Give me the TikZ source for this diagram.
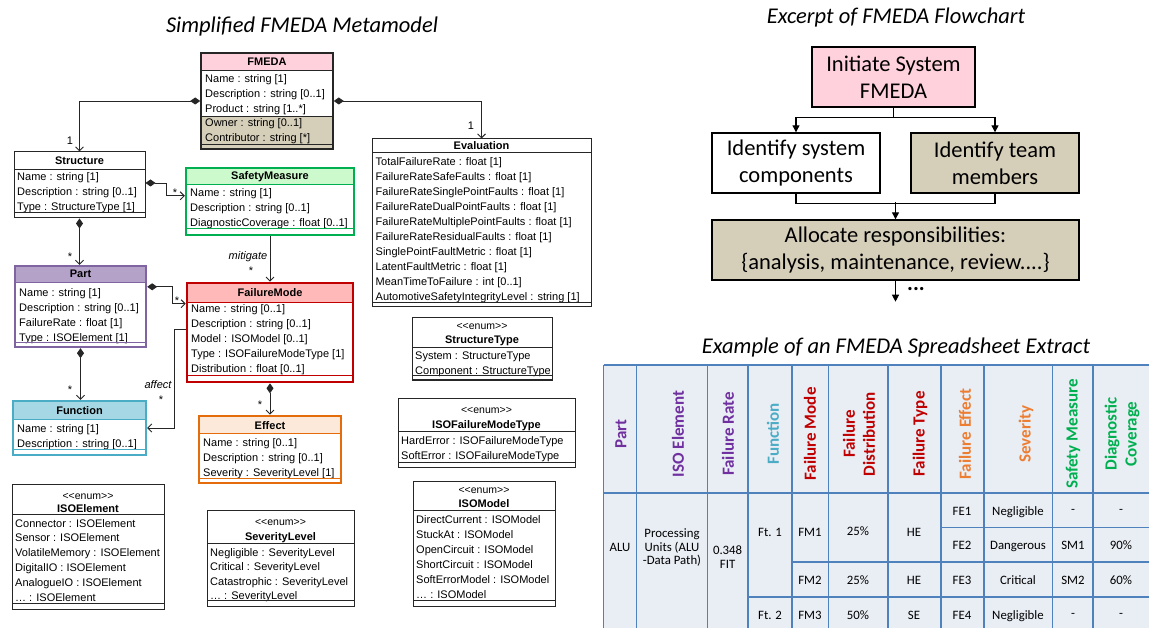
\documentclass[tikz,border=0pt]{standalone}
\usepackage{fontspec}
\setmainfont{Liberation Sans}
\newfontfamily\calibri{Carlito}
\usetikzlibrary{arrows.meta,fit}

\definecolor{fmedapink}{RGB}{255,209,221}
\definecolor{tanfill}{RGB}{213,206,185}
\definecolor{smline}{RGB}{0,176,80}
\definecolor{smfill}{RGB}{204,250,204}
\definecolor{partline}{RGB}{128,100,162}
\definecolor{partfill}{RGB}{180,162,200}
\definecolor{fmline}{RGB}{192,0,0}
\definecolor{fmfill}{RGB}{255,185,185}
\definecolor{fnline}{RGB}{75,172,198}
\definecolor{fnfill}{RGB}{166,215,229}
\definecolor{efline}{RGB}{228,108,10}
\definecolor{effill}{RGB}{253,233,217}
\definecolor{tblfill}{RGB}{233,237,244}
\definecolor{tblline}{RGB}{79,129,189}
\definecolor{hpurple}{RGB}{112,48,160}
\definecolor{hcyan}{RGB}{75,172,198}
\definecolor{hred}{RGB}{192,0,0}
\definecolor{horange}{RGB}{237,125,49}
\definecolor{hgreen}{RGB}{0,176,80}

% class box: name, x0, y0, x1, y1, header bottom, header fill, border style
\newcommand{\umlclass}[8]{%
  \fill[#7] (#2,#3) rectangle (#4,#6);
  \draw[#8, line width=0.7pt] (#2,#6) -- (#4,#6);
  \node[fit={(#2,#3) (#4,#5)}, inner sep=0pt, #8] (#1) {};}
% attribute rows: name prefix, x, first y, row step, list
\newcommand{\umlrows}[5]{%
  \foreach \t [count=\i] in {#5} {\node[attr] (#1-\i) at (#2,{#3+#4*(\i-1)}) {\t};}}
% operations separator: x0, x1, y, style
\newcommand{\umlsep}[4]{\draw[#4, line width=0.7pt] (#1,#3) -- (#2,#3);}
% stereotype text
\newcommand{\enumtag}{<{}<enum>{}>}

\begin{document}
\begin{tikzpicture}[x=1pt,y=-1pt,
  attr/.style={anchor=west, inner sep=0pt, font=\fontsize{11}{13}\selectfont, text height=8pt, text depth=0pt},
  cname/.style={inner sep=0pt, font=\bfseries\fontsize{11}{13}\selectfont, text height=8pt, text depth=0pt},
  stereo/.style={inner sep=0pt, font=\fontsize{10.5}{13}\selectfont, text height=8pt, text depth=0pt},
  thin/.style={draw=black!85, line width=1pt},
  fmedaborder/.style={draw=black!85, line width=1.6pt},
  smborder/.style={draw=smline, line width=2.4pt},
  partborder/.style={draw=partline, line width=2.4pt},
  fmborder/.style={draw=fmline, line width=2.6pt},
  fnborder/.style={draw=fnline, line width=2.4pt},
  efborder/.style={draw=efline, line width=2.6pt},
  link/.style={draw=black!85, line width=0.9pt},
  comp/.style={link, {Diamond[length=10pt,width=7pt]}-{Straight Barb[length=4pt,width=8pt]}},
  assoc/.style={link, -{Straight Barb[length=4pt,width=8pt]}},
  lbl/.style={inner sep=0pt, font=\fontsize{11}{13}\selectfont},
  ilbl/.style={inner sep=0pt, font=\itshape\fontsize{11}{13}\selectfont},
  ttl/.style={inner sep=0pt, font=\calibri\itshape\fontsize{22.5}{27}\selectfont},
  flowbox/.style={draw=black, line width=1.4pt, inner sep=0pt, align=center, font=\calibri\fontsize{22.5}{27}\selectfont},
  flowline/.style={draw=black, line width=1.2pt},
  flowarrow/.style={flowline, -{Triangle[length=7pt,width=7pt]}},
  grid/.style={draw=tblline, line width=1.6pt},
  hdr/.style={rotate=90, inner sep=0pt, align=center, font=\calibri\bfseries\fontsize{17}{20}\selectfont},
  cell/.style={inner sep=0pt, align=center, font=\calibri\fontsize{12.8}{13.5}\selectfont, text depth=0pt}]

\fill[white] (0,0) rectangle (1149,628);
\useasboundingbox (0,0) rectangle (1149,628);

% ---------------- metamodel ----------------
\node[ttl] (t-meta) at (302,27) {Simplified FMEDA Metamodel};

% FMEDA
\fill[tanfill] (201,116) rectangle (333,149);
\umlclass{fmeda}{201}{53}{333}{149}{70}{fmedapink}{fmedaborder}
\node[cname] (fmeda-n) at (267,62) {FMEDA};
\umlrows{fmeda}{205}{79}{14.6}{Name : string [1], Description : string [0..1], Product : string [1..*], Owner : string [0..1], Contributor : string [*]}
\umlsep{201}{333}{116}{black!85}
\umlsep{201}{333}{144}{black!85}

% Structure
\umlclass{structure}{14}{152}{145}{218}{169}{white}{thin}
\node[cname] (structure-n) at (79.5,160.5) {Structure};
\umlrows{structure}{17}{176.5}{14.8}{Name : string [1], Description : string [0..1], Type : StructureType [1]}
\umlsep{14}{145}{212.5}{black!85}

% SafetyMeasure
\umlclass{safety}{186}{168}{354}{235}{184}{smfill}{smborder}
\node[cname] (safety-n) at (270,176) {SafetyMeasure};
\umlrows{safety}{190}{193}{14.6}{Name : string [1], Description : string [0..1], DiagnosticCoverage : float [0..1]}
\umlsep{186}{354}{228.5}{smline}

% Evaluation
\umlclass{evaluation}{372}{139}{591}{307}{152}{white}{thin}
\node[cname] (evaluation-n) at (481.5,145.5) {Evaluation};
\umlrows{evaluation}{375.5}{161.5}{15}{TotalFailureRate : float [1], FailureRateSafeFaults : float [1], FailureRateSinglePointFaults : float [1], FailureRateDualPointFaults : float [1], FailureRateMultiplePointFaults : float [1], FailureRateResidualFaults : float [1], SinglePointFaultMetric : float [1], LatentFaultMetric : float [1], MeanTimeToFailure : int [0..1], AutomotiveSafetyIntegrityLevel : string [1]}
\umlsep{372}{591}{302}{black!85}

% Part
\umlclass{part}{15}{266}{146}{347}{282}{partfill}{partborder}
\node[cname] (part-n) at (80.5,274) {Part};
\umlrows{part}{19}{293}{14.7}{Name : string [1], Description : string [0..1], FailureRate : float [1], Type : ISOElement [1]}
\umlsep{15}{146}{342}{partline}

% FailureMode
\umlclass{fm}{187}{283}{353}{382}{302}{fmfill}{fmborder}
\node[cname] (fm-n) at (270,292.5) {FailureMode};
\umlrows{fm}{191}{309}{14.8}{Name : string [0..1], Description : string [0..1], Model : ISOModel [0..1], Type : ISOFailureModeType [1], Distribution : float [0..1]}
\umlsep{187}{353}{375}{fmline}

% Function
\umlclass{function}{13}{401}{146}{455}{419}{fnfill}{fnborder}
\node[cname] (function-n) at (79.5,410.5) {Function};
\umlrows{function}{17}{428}{15}{Name : string [1], Description : string [0..1]}
\umlsep{13}{146}{449.5}{fnline}

% Effect
\umlclass{effect}{199}{416}{341}{483}{433}{effill}{efborder}
\node[cname] (effect-n) at (270,425) {Effect};
\umlrows{effect}{203}{442}{15}{Name : string [0..1], Description : string [0..1], Severity : SeverityLevel [1]}
\umlsep{199}{341}{478}{efline}

% enumerations
\umlclass{stype}{412}{318}{552}{380}{347}{white}{thin}
\node[stereo] (stype-s) at (482,326) {\enumtag};
\node[cname] (stype-n) at (482,340) {StructureType};
\umlrows{stype}{415}{355.5}{15}{System : StructureType, Component : StructureType}
\umlsep{412}{552}{375}{black!85}

\umlclass{fmtype}{398}{398}{575}{467}{431}{white}{thin}
\node[stereo] (fmtype-s) at (486.5,409) {\enumtag};
\node[cname] (fmtype-n) at (486.5,424) {ISOFailureModeType};
\umlrows{fmtype}{401}{440}{15}{HardError : ISOFailureModeType, SoftError : ISOFailureModeType}
\umlsep{398}{575}{462}{black!85}

\umlclass{isomodel}{413}{481}{555}{606}{510}{white}{thin}
\node[stereo] (isomodel-s) at (484,489) {\enumtag};
\node[cname] (isomodel-n) at (484,503) {ISOModel};
\umlrows{isomodel}{416}{519}{15}{DirectCurrent : ISOModel, StuckAt : ISOModel, OpenCircuit : ISOModel, ShortCircuit : ISOModel, SoftErrorModel : ISOModel, \ldots{} : ISOModel}
\umlsep{413}{555}{600}{black!85}

\umlclass{isoelem}{12}{484}{164}{609}{514}{white}{thin}
\node[stereo] (isoelem-s) at (88,495) {\enumtag};
\node[cname] (isoelem-n) at (88,508) {ISOElement};
\umlrows{isoelem}{15}{523}{14.8}{Connector : ISOElement, Sensor : ISOElement, VolatileMemory : ISOElement, DigitalIO : ISOElement, AnalogueIO : ISOElement, \ldots{} : ISOElement}
\umlsep{12}{164}{603}{black!85}

\umlclass{sevlevel}{207}{510}{354}{606}{543}{white}{thin}
\node[stereo] (sevlevel-s) at (280.5,521) {\enumtag};
\node[cname] (sevlevel-n) at (280.5,536) {SeverityLevel};
\umlrows{sevlevel}{210}{552}{14.6}{Negligible : SeverityLevel, Critical : SeverityLevel, Catastrophic : SeverityLevel, \ldots{} : SeverityLevel}
\umlsep{207}{354}{600}{black!85}

% connectors
\draw[comp] (fmeda.west) -| (structure.north);
\draw[comp] (fmeda.east) -| (evaluation.north);
\draw[comp] ([yshift=2pt]structure.east) -- ++(21,0) |- ([yshift=-29pt]safety.north west);
\draw[comp] ([yshift=-22pt]part.north east) -- ++(25,0) |- ([yshift=-22pt]fm.north west);
\draw[assoc] (safety.south) -- (fm.north);
\draw[comp] (structure.south) -- (structure.south |- part.north);
\draw[comp] (part.south) -- (part.south |- function.north);
\draw[assoc] ([yshift=-48pt]fm.north west) -- ++(-11,0) |- (function.east);
\draw[comp] (fm.south) -- (effect.north);

% multiplicities and role names
\node[lbl] (m-struct) at (70,141) {1};
\node[lbl] (m-eval) at (471,126) {1};
\node[lbl] (m-safety) at (175,193) {*};
\node[lbl] (m-part) at (70,257) {*};
\node[lbl] (m-fm) at (177,301) {*};
\node[lbl] (m-func) at (70,390) {*};
\node[lbl] (m-effect) at (260,405) {*};
\node[ilbl] (r-mitigate) at (248,257) {mitigate};
\node[lbl] (m-mitigate) at (251,271) {*};
\node[ilbl] (r-affect) at (158,385) {affect};
\node[lbl] (m-affect) at (161,400) {*};

% ---------------- flowchart ----------------
\node[ttl] (t-flow) at (896,18) {Excerpt of FMEDA Flowchart};
\node[flowbox, fill=fmedapink, minimum width=163pt, minimum height=60pt] (init) at (893.5,77) {Initiate System\\FMEDA};
\node[flowbox, fill=white, minimum width=168pt, minimum height=60pt] (comps) at (796,163) {Identify system\\components};
\node[flowbox, fill=tanfill, minimum width=168pt, minimum height=60pt] (team) at (995,163) {Identify team\\members};
\node[flowbox, fill=tanfill, minimum width=367pt, minimum height=60pt] (alloc) at (895.5,250) {Allocate responsibilities:\\\{analysis, maintenance, review....\}};
\draw[flowline] (init.south) -- ++(0,10) coordinate (split);
\draw[flowarrow] (split) -| (comps.north);
\draw[flowarrow] (split) -| (team.north);
\draw[flowline] (comps.south) -- ++(0,10) -| (team.south);
\coordinate (join) at ([yshift=17pt]alloc.north);
\draw[flowarrow] (join) -- (alloc.north);
\draw[flowarrow] (alloc.south) -- ++(0,21) coordinate (more);
\node[inner sep=0pt, font=\calibri\bfseries\fontsize{22}{26}\selectfont] (moredots) at (916,289) {...};

% ---------------- spreadsheet extract ----------------
\node[ttl] (t-table) at (896,348) {Example of an FMEDA Spreadsheet Extract};
\begin{scope}
  \clip (598,360) rectangle (1149,628);
  \fill[tblfill] (603.5,365) rectangle (1160,640);
  \foreach \x in {603.5,636.4,707.5,747.8,791.9,828.3,887.8,940.7,983.8,1052.5,1093,1149.5}
    \draw[grid] (\x,365) -- (\x,640);
  \draw[grid] (603.5,365) -- (1160,365);
  \draw[grid] (603.5,493) -- (1160,493);
  \draw[grid] (940.7,527.5) -- (1160,527.5);
  \draw[grid] (791.9,562) -- (1160,562);
  \draw[grid] (747.8,597) -- (1160,597);
\end{scope}

% header row
\node[hdr, text=hpurple] (h-part) at (621,434) {Part};
\node[hdr, text=hpurple] (h-iso) at (678,434) {ISO Element};
\node[hdr, text=hpurple] (h-rate) at (728,434) {Failure Rate};
\node[hdr, text=hcyan] (h-func) at (773,434) {Function};
\node[hdr, text=hred] (h-mode) at (810,434) {Failure Mode};
\node[hdr, text=hred] (h-dist) at (859,434) {Failure\\Distribution};
\node[hdr, text=hred] (h-type) at (920,434) {Failure Type};
\node[hdr, text=horange] (h-effect) at (965,434) {Failure Effect};
\node[hdr, text=horange] (h-sev) at (1026,434) {Severity};
\node[hdr, text=hgreen] (h-sm) at (1073,434) {Safety Measure};
\node[hdr, text=hgreen] (h-dc) at (1122,434) {Diagnostic\\Coverage};

% body
\node[cell] (c-alu) at (620,547) {ALU};
\node[cell] (c-pu) at (672,547) {Processing\\Units (ALU\\-Data Path)};
\node[cell] (c-fit) at (727.6,557) {0.348\\FIT};
\node[cell] (c-ft1) at (770,532) {Ft. 1};
\node[cell] (c-ft2) at (770,615) {Ft. 2};
\node[cell] (c-fm1) at (810,532) {FM1};
\node[cell] (c-d1) at (858,531) {25\%};
\node[cell] (c-t1) at (914,532) {HE};
\node[cell] (c-fm2) at (810,580) {FM2};
\node[cell] (c-d2) at (858,580) {25\%};
\node[cell] (c-t2) at (914,580) {HE};
\node[cell] (c-fm3) at (810,615) {FM3};
\node[cell] (c-d3) at (858,615) {50\%};
\node[cell] (c-t3) at (914,615) {SE};
\node[cell] (c-fe1) at (962,511) {FE1};
\node[cell] (c-s1) at (1018,511) {Negligible};
\node[cell] (c-sm1) at (1073,511) {-};
\node[cell] (c-dc1) at (1121,511) {-};
\node[cell] (c-fe2) at (962,545) {FE2};
\node[cell] (c-s2) at (1018,545) {Dangerous};
\node[cell] (c-sm2) at (1073,545) {SM1};
\node[cell] (c-dc2) at (1121,545) {90\%};
\node[cell] (c-fe3) at (962,580) {FE3};
\node[cell] (c-s3) at (1018,580) {Critical};
\node[cell] (c-sm3) at (1073,580) {SM2};
\node[cell] (c-dc3) at (1121,580) {60\%};
\node[cell] (c-fe4) at (962,615) {FE4};
\node[cell] (c-s4) at (1018,615) {Negligible};
\node[cell] (c-sm4) at (1073,615) {-};
\node[cell] (c-dc4) at (1121,615) {-};
\end{tikzpicture}
\end{document}
